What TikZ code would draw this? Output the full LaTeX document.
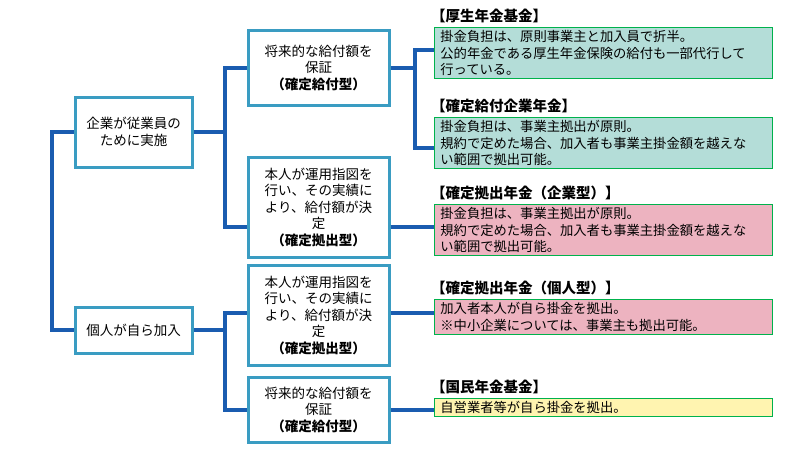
\documentclass[tikz,border=0pt]{standalone}
\usepackage{fontspec}
\setmainfont{Noto Sans CJK JP}
\usepackage{xcolor}
\usetikzlibrary{positioning}
\definecolor{linkblue}{HTML}{1A5CB0}
\definecolor{framecol}{HTML}{3A9CC2}
\definecolor{tealfill}{HTML}{B4DDD8}
\definecolor{pinkfill}{HTML}{EDB3C0}
\definecolor{yellowfill}{HTML}{FFF4B0}
\tikzset{
  kind/.style={draw=framecol, line width=3pt, fill=white, align=center, font=\fontsize{13.5}{16.5}\selectfont, inner sep=0pt},
  plan/.style={draw=green!40!teal, line width=0.8pt, align=left, text width=326pt, inner xsep=6pt, inner ysep=3pt, anchor=north west, font=\fontsize{13.3}{16.5}\selectfont},
  heading/.style={anchor=south west, inner sep=0pt, font=\fontsize{14.5}{16}\selectfont\bfseries},
  conn/.style={draw=linkblue, line width=4pt}
}
\begin{document}
\begin{tikzpicture}[x=1pt, y=-1pt]
    \useasboundingbox (0,0) rectangle (800,450);
    % left column
    \node[kind, minimum width=117pt, minimum height=70pt] (kigyo) at (133.5,132) {企業が従業員の\\ために実施};
    \node[kind, minimum width=117pt, minimum height=46pt] (kojin) at (133.5,330) {個人が自ら加入};

    % middle column
    \node[kind, minimum width=141pt, minimum height=75pt] (kakuA) at (318.5,67.5) {将来的な給付額を\\保証\\\textbf{（確定給付型）}};
    \node[kind, minimum width=141pt, minimum height=100pt] (kyoB) at (318.5,207) {本人が運用指図を\\行い、その実績に\\より、給付額が決\\定\\\textbf{（確定拠出型）}};
    \node[kind, minimum width=141pt, minimum height=100pt] (kyoC) at (318.5,315) {本人が運用指図を\\行い、その実績に\\より、給付額が決\\定\\\textbf{（確定拠出型）}};
    \node[kind, minimum width=141pt, minimum height=65pt] (kakuD) at (318.5,409.5) {将来的な給付額を\\保証\\\textbf{（確定給付型）}};

    % right column
    \node[plan, fill=tealfill] (kikin) at (434,27) {掛金負担は、原則事業主と加入員で折半。\\公的年金である厚生年金保険の給付も一部代行して\\行っている。};
    \node[heading] (tkikin) at (431,23) {【厚生年金基金】};
    \node[plan, fill=tealfill] (kyufu) at (434,117) {掛金負担は、事業主拠出が原則。\\規約で定めた場合、加入者も事業主掛金額を越えな\\い範囲で拠出可能。};
    \node[heading] (tkyufu) at (431,113) {【確定給付企業年金】};
    \node[plan, fill=pinkfill] (kigata) at (434,204) {掛金負担は、事業主拠出が原則。\\規約で定めた場合、加入者も事業主掛金額を越えな\\い範囲で拠出可能。};
    \node[heading] (tkigata) at (431,200) {【確定拠出年金（企業型）】};
    \node[plan, fill=pinkfill] (kogata) at (434,299) {加入者本人が自ら掛金を拠出。\\※中小企業については、事業主も拠出可能。};
    \node[heading] (tkogata) at (431,295) {【確定拠出年金（個人型）】};
    \node[plan, fill=yellowfill] (kokumin) at (434,398) {自営業者等が自ら掛金を拠出。};
    \node[heading] (tkokumin) at (431,394) {【国民年金基金】};

    % connectors
    \draw[conn] (kigyo.west) -- (52,132) |- (kojin.west);
    \draw[conn] (kigyo.east) -- (225,132);
    \draw[conn] (kakuA.west) -| (225,132) |- (kyoB.west |- 0,227);
    \draw[conn] (kojin.east) -- (225,330);
    \draw[conn] (kyoC.west |- 0,313) -| (225,330) |- (kakuD.west);
    \draw[conn] (kakuA.east) -- (415,67.5);
    \draw[conn] (kikin.west |- 0,50) -| (415,67.5) |- (kyufu.west |- 0,148);
    \draw[conn] (kyoB.east |- 0,227) -- (kigata.west |- 0,227);
    \draw[conn] (kyoC.east |- 0,313) -- (kogata.west |- 0,313);
    \draw[conn] (kakuD.east) -- (kokumin.west |- kakuD.east);
\end{tikzpicture}
\end{document}
